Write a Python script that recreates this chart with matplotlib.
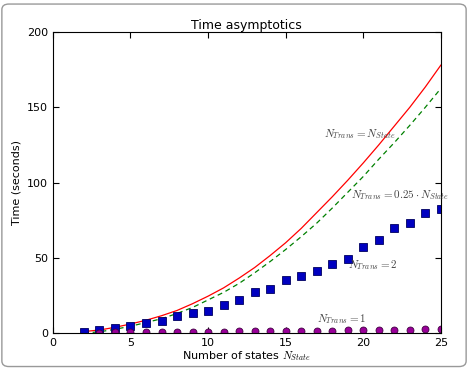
import numpy as np
import matplotlib
matplotlib.use('Agg')
import matplotlib.pyplot as plt
from matplotlib.patches import FancyBboxPatch

plt.rcParams['mathtext.fontset'] = 'cm'

n_state = np.arange(2, 26)

# N_Trans = N_State (red solid)
t_full = [1, 2, 3.8, 6, 8.5, 11.5, 15, 19.5, 24.5, 30, 36.5, 43.5, 51.5, 60,
          69.5, 80, 90.5, 101.5, 113, 125, 137.5, 150, 163.5, 178]
# N_Trans = 0.25*N_State (green dashed)
t_quarter = [0, 0.8, 2.5, 4.5, 7, 9.5, 13, 17, 22, 27, 33, 40, 47.5, 55.5,
             64, 73, 83, 93.5, 104, 115.5, 126.5, 138, 150, 162.5]
# N_Trans = 2 (blue squares)
t_two = [0.9, 1.8, 3.1, 4.7, 6.4, 8, 11.3, 13.3, 14.8, 18.6, 21.9, 27.2, 29,
         35, 37.7, 41.4, 46, 49.4, 56.9, 61.8, 69.8, 72.9, 79.5, 82.4]
# N_Trans = 1 (purple circles)
n_one = np.arange(3, 26)
t_one = [0.3, 0.4, 0.5, 0.6, 0.6, 0.7, 0.8, 0.9, 1.0, 1.1, 1.1, 1.2, 1.3,
         1.4, 1.5, 1.6, 1.7, 1.8, 2.0, 2.1, 2.3, 2.4, 2.7]

labels = [r'$N_{Trans}=N_{State}$', r'$N_{Trans}=0.25\cdot N_{State}$',
          r'$N_{Trans}=2$', r'$N_{Trans}=1$']
label_pos = [(17.5, 132), (19.2, 92), (19.0, 45), (17.0, 9)]

fig = plt.figure(figsize=(4.68, 3.68), dpi=100)
ax = fig.add_axes([0.113, 0.095, 0.829, 0.818])

ax.plot(n_state, t_full, color='#ff0000', lw=0.9)
ax.plot(n_state, t_quarter, color='#008000', lw=0.9, ls='--', dashes=(4, 3))
ax.plot(n_state, t_two, 's', color='#0000c0', mec='#000060', ms=5.5, mew=0.6)
ax.plot(n_one, t_one, 'o', color='#990099', mec='#400040', ms=5, mew=0.6)

for txt, (x, y) in zip(labels, label_pos):
    ax.text(x, y, txt, color='#444444', fontsize=8, va='center', ha='left')

ax.set_xlim(0, 25)
ax.set_ylim(0, 200)
ax.set_xticks([0, 5, 10, 15, 20, 25])
ax.set_yticks([0, 50, 100, 150, 200])
ax.tick_params(direction='in', top=True, right=True, labelsize=8, length=4)
ax.set_title('Time asymptotics', fontsize=9, pad=2)
ax.set_xlabel(r'Number of states $N_{State}$', fontsize=8, labelpad=1)
ax.set_ylabel('Time (seconds)', fontsize=8, labelpad=4)

border = FancyBboxPatch((0.004, 0.004), 0.992, 0.985, boxstyle='round,pad=0,rounding_size=0.015',
                        transform=fig.transFigure, fill=False, ec='#999999', lw=1.0)
fig.patches.append(border)

fig.savefig('out.png', dpi=100)
